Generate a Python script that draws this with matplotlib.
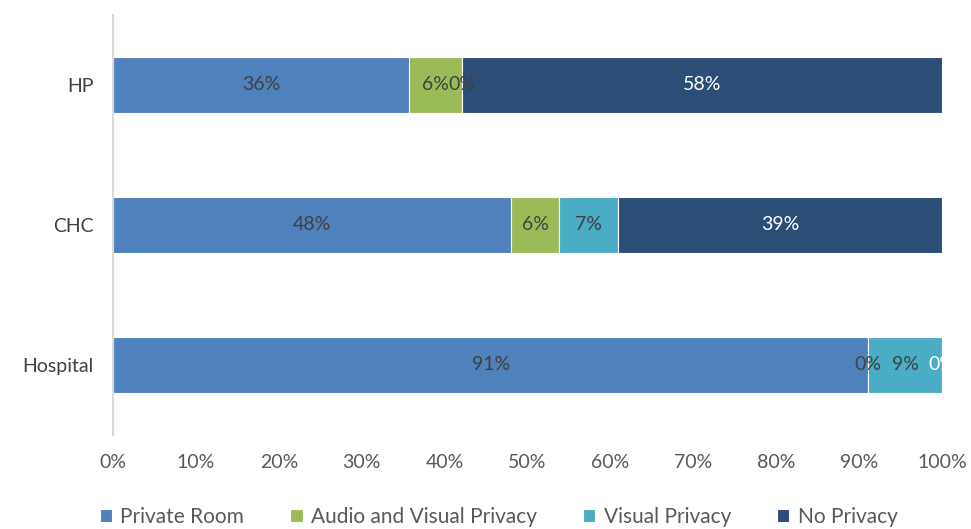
import numpy as np
import matplotlib.pyplot as plt
from matplotlib.ticker import PercentFormatter

plt.rcParams['font.family'] = ['Lato', 'DejaVu Sans']

# share of sites by privacy level (percent)
sites = ["Hospital", "CHC", "HP"]
series = ["Private Room", "Audio and Visual Privacy", "Visual Privacy", "No Privacy"]
private_room = [91.1, 48.0, 35.7]
audio_visual = [0.0, 5.8, 6.4]
visual_only = [8.9, 7.1, 0.0]
no_privacy = [0.0, 39.1, 57.9]

colors = ["#4F81BD", "#9BBB59", "#4BACC6", "#2C4D75"]
label_colors = ["#404040", "#404040", "#404040", "white"]

fig = plt.figure(figsize=(9.71, 5.29), dpi=100)
ax = fig.add_axes([0.1164, 0.1777, 0.8537, 0.794])

y = np.arange(len(sites))
left = np.zeros(len(sites))
for name, vals, col, lcol in zip(series, [private_room, audio_visual, visual_only, no_privacy],
                                 colors, label_colors):
    vals = np.array(vals)
    ax.barh(y, vals, left=left, height=0.4, color=col, edgecolor="white",
            linewidth=0.8, label=name)
    for yi, l, v in zip(y, left, vals):
        # a zero-width dark segment only gets a label at the far end of the bar
        if name == "No Privacy" and v == 0 and l < 100 - 1e-6:
            continue
        ax.text(l + v / 2, yi, f"{v:.0f}%", ha="center", va="center",
                fontsize=14, color=lcol, clip_on=False)
    left += vals

ax.set_xlim(0, 100)
ax.set_ylim(-0.5, 2.5)
ax.set_yticks(y)
ax.set_yticklabels(sites, fontsize=14, color="#404040")
ax.set_xticks(np.arange(0, 101, 10))
ax.xaxis.set_major_formatter(PercentFormatter(decimals=0))
ax.tick_params(axis="x", labelsize=14, colors="#595959", length=0, pad=14)
ax.tick_params(axis="y", length=0, pad=14)

for s in ["top", "right", "bottom"]:
    ax.spines[s].set_visible(False)
ax.spines["left"].set_color("#D9D9D9")
ax.spines["left"].set_linewidth(1.5)

ax.legend(loc="upper center", bbox_to_anchor=(0.465, -0.127), ncol=4, frameon=False,
          fontsize=15, handlelength=0.6, handleheight=0.6, columnspacing=2.2,
          handletextpad=0.4, labelcolor="#595959")

fig.savefig("out.png", dpi=100)
